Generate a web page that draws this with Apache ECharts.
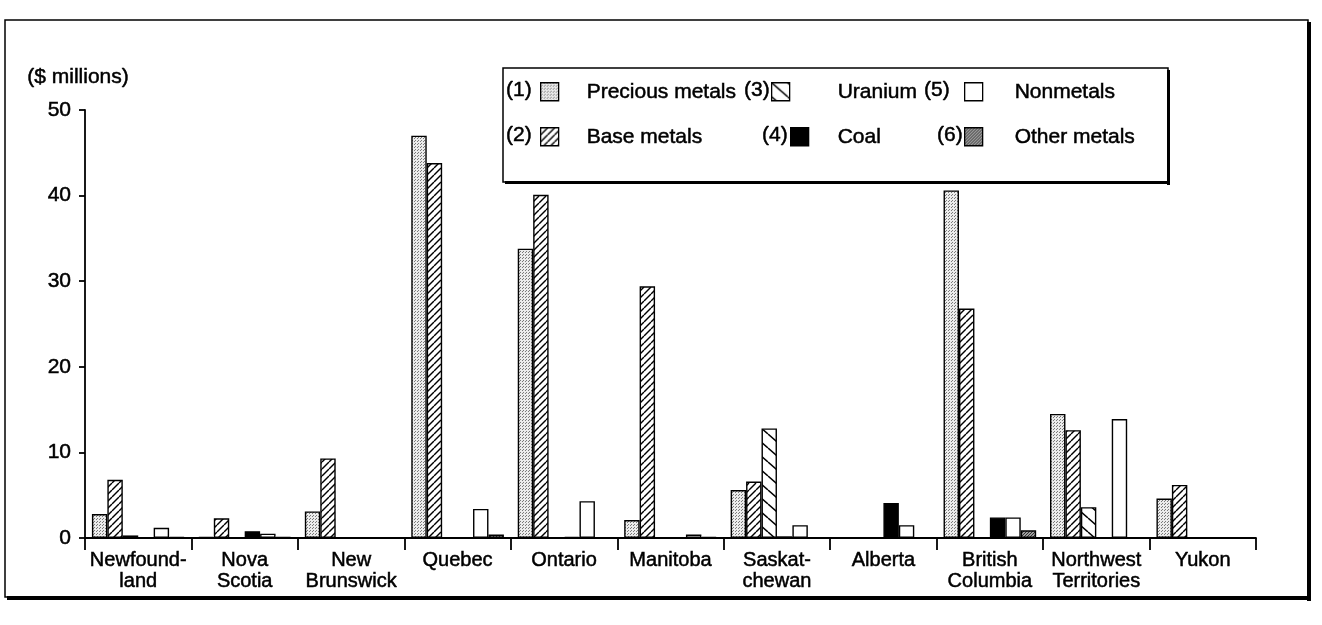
<!DOCTYPE html>
<html><head><meta charset="utf-8">
<script src="https://cdn.jsdelivr.net/npm/echarts/dist/echarts.min.js"></script>
<style>html,body{margin:0;padding:0;background:#fff}#c{width:1322px;height:625px}</style>
</head><body><div id="c"></div>
<script>
// ---- data ----
const categories = ['Newfound-\nland','Nova\nScotia','New\nBrunswick','Quebec','Ontario','Manitoba','Saskat-\nchewan','Alberta','British\nColumbia','Northwest\nTerritories','Yukon'];
const seriesNames = ['Precious metals','Base metals','Uranium','Coal','Nonmetals','Other metals'];
const seriesNumbers = ['(1)','(2)','(3)','(4)','(5)','(6)'];
const preciousMetals = [2.8, 0.1, 3.1, 47.0, 33.8, 2.1, 5.6, 0, 40.6, 14.5, 4.6];
const baseMetals     = [6.8, 2.3, 9.3, 43.8, 40.1, 29.4, 6.6, 0, 26.8, 12.6, 6.2];
const uranium        = [0.3, 0, 0, 0, 0, 0, 12.8, 0, 0, 3.6, 0];
const coal           = [0, 0.8, 0, 0, 0.15, 0, 0.2, 4.1, 2.4, 0, 0];
const nonmetals      = [1.2, 0.5, 0, 3.4, 4.3, 0.4, 1.5, 1.5, 2.4, 13.9, 0];
const otherMetals    = [0.1, 0.1, 0, 0.4, 0, 0.15, 0, 0, 0.9, 0, 0];
const yTickValues    = [0, 10, 20, 30, 40, 50];
const yAxisTitle = '($ millions)';

// ---- patterns ----
function mk(w, h, draw) {
  const c = document.createElement('canvas'); c.width = w; c.height = h;
  const g = c.getContext('2d'); draw(g, w, h); return { image: c, repeat: 'repeat' };
}
const patPrecious = mk(3, 3, g => { g.fillStyle = '#ececec'; g.fillRect(0,0,3,3); g.fillStyle = '#7a7a7a'; g.fillRect(0,0,1,1); g.fillRect(1,2,1,1); });
const patBase = mk(7, 7, g => { g.fillStyle = '#fff'; g.fillRect(0,0,7,7); g.strokeStyle = '#000'; g.lineWidth = 1.4;
  [-7,0,7].forEach(k => { g.beginPath(); g.moveTo(k, 7); g.lineTo(k+7, 0); g.stroke(); }); });
const patUranium = mk(16, 14, g => { g.fillStyle = '#fff'; g.fillRect(0,0,16,14); g.strokeStyle = '#000'; g.lineWidth = 1.5;
  [-14,0,14].forEach(k => { g.beginPath(); g.moveTo(0, k); g.lineTo(16, k+14); g.stroke(); }); });
const patOther = mk(3, 3, g => { g.fillStyle = '#a0a0a0'; g.fillRect(0,0,3,3); g.fillStyle = '#333'; g.fillRect(0,0,1,1); g.fillRect(1,2,1,1); g.fillRect(2,1,1,1); });
const fills = [patPrecious, patBase, patUranium, '#000', '#fff', patOther];
const values = [preciousMetals, baseMetals, uranium, coal, nonmetals, otherMetals];

const FONT = 'Liberation Sans';
const TB = { textBorderColor: '#000', textBorderWidth: 0.5 };
const chart = echarts.init(document.getElementById('c'), null, { renderer: 'canvas' });

const legendPos = [
  { left: 540, top: 81, pad: 23 }, { left: 540, top: 126, pad: 23 },
  { left: 771, top: 81, pad: 43 }, { left: 790, top: 126, pad: 24 },
  { left: 964, top: 81, pad: 27 }, { left: 964, top: 126, pad: 27 }
];
const numPos = [[506, 90], [506, 135], [744, 90], [762, 135], [924, 90], [937, 135]];

const option = {
  animation: false,
  backgroundColor: '#fff',
  grid: { left: 85, right: 66, top: 110, bottom: 87 },
  legend: seriesNames.map((n, i) => ({
    data: [{ name: n, itemStyle: { color: fills[i], borderColor: '#000', borderWidth: 1.3 } }],
    left: legendPos[i].left, top: legendPos[i].top, padding: 0,
    icon: 'rect', itemWidth: 18, itemHeight: 18, selectedMode: false,
    textStyle: Object.assign({ fontFamily: FONT, fontSize: 21, color: '#000', padding: [0, 0, 0, legendPos[i].pad] }, TB)
  })),
  xAxis: {
    type: 'category', data: categories,
    axisLine: { lineStyle: { color: '#000', width: 1.8 } },
    axisTick: { show: true, length: 12, lineStyle: { color: '#000', width: 1.8 } },
    axisLabel: Object.assign({ fontFamily: FONT, fontSize: 20, color: '#000', margin: 12, lineHeight: 21, interval: 0 }, TB)
  },
  yAxis: {
    type: 'value', min: 0, max: 50, interval: 10,
    name: yAxisTitle, nameLocation: 'end', nameGap: 22,
    nameTextStyle: Object.assign({ fontFamily: FONT, fontSize: 21, color: '#000', padding: [0, 14, 0, 0] }, TB),
    axisLine: { show: true, lineStyle: { color: '#000', width: 1.8 } },
    axisTick: { show: true, length: 6, lineStyle: { color: '#000', width: 1.8 } },
    axisLabel: Object.assign({ fontFamily: FONT, fontSize: 21, color: '#000', margin: 14,
      formatter: v => (yTickValues.indexOf(v) >= 0 ? String(v) : '') }, TB),
    splitLine: { show: false }
  },
  series: seriesNames.map((n, i) => ({
    name: n, type: 'bar', data: values[i],
    barGap: '0%', barCategoryGap: '13%',
    itemStyle: { color: fills[i], borderColor: '#000', borderWidth: 1.4 }
  })),
  graphic: [
    // outer frame
    { type: 'rect', shape: { x: 5, y: 20, width: 1303, height: 577 }, style: { fill: 'none', stroke: '#000', lineWidth: 1.5 }, z: 0 },
    { type: 'rect', shape: { x: 1307, y: 22, width: 4, height: 579 }, style: { fill: '#000' } },
    { type: 'rect', shape: { x: 7, y: 596, width: 1304, height: 4 }, style: { fill: '#000' } },
    // legend box
    { type: 'rect', shape: { x: 503, y: 68, width: 665, height: 114 }, style: { fill: '#fff', stroke: '#000', lineWidth: 1.5 }, z: -1 },
    { type: 'rect', shape: { x: 1167, y: 70, width: 3, height: 115 }, style: { fill: '#000' } },
    { type: 'rect', shape: { x: 505, y: 181, width: 665, height: 3 }, style: { fill: '#000' } }
  ].concat(seriesNumbers.map((t, i) => ({
    type: 'text', x: numPos[i][0], y: numPos[i][1],
    style: { text: t, font: '21px "' + FONT + '"', fill: '#000', stroke: '#000', lineWidth: 0.5, verticalAlign: 'middle', textAlign: 'left' }
  })))
};
chart.setOption(option);
</script></body></html>
